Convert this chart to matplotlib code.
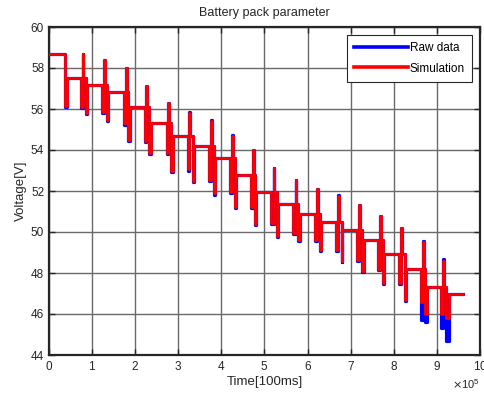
import numpy as np
import matplotlib
matplotlib.use("Agg")
import matplotlib.pyplot as plt
from matplotlib.ticker import ScalarFormatter

plt.rcParams['font.family'] = ['Liberation Sans', 'DejaVu Sans']

# time axis readings are in units of 1e5 x 100ms
TIME_SCALE = 1e5

# rest level after each pulse group (first value = start level)
rest_level = [58.7, 57.5, 57.15, 56.85, 56.1, 55.3, 54.7, 54.2, 53.6, 52.8,
              51.95, 51.35, 50.9, 50.5, 50.08, 49.6, 48.95, 48.2, 47.3, 47.0]

# pulse timing, one entry per transition (19 transitions)
t_dip = [0.38, 0.74, 1.23, 1.73, 2.23, 2.73, 3.22, 3.72, 4.20, 4.68,
         5.15, 5.67, 6.17, 6.67, 7.15, 7.64, 8.12, 8.62, 9.10]
t_spike = [np.nan, 0.78, 1.27, 1.78, 2.26, 2.77, 3.26, 3.76, 4.25, 4.73,
           5.21, 5.72, 6.22, 6.71, 7.20, 7.68, 8.17, 8.67, 9.15]
t_drop = [np.nan, 0.85, 1.35, 1.84, 2.33, 2.84, 3.33, 3.83, 4.31, 4.78,
          5.28, 5.78, 6.29, 6.79, 7.27, 7.75, 8.25, 8.73, 9.20]
t_rest = [0.41, 0.88, 1.38, 1.87, 2.36, 2.87, 3.36, 3.86, 4.34, 4.81,
          5.31, 5.82, 6.31, 6.81, 7.30, 7.78, 8.28, 8.77, 9.27]
t_end = 9.60

# simulated voltages at the pulses
sim_dip = [56.15, 56.1, 55.85, 55.3, 54.45, 53.85, 53.05, 52.55, 51.95, 51.2,
           50.45, 49.95, 49.6, 49.1, 48.65, 48.2, 47.5, 46.6, 46.0]
sim_spike = [np.nan, 58.7, 58.37, 58.0, 57.1, 56.3, 55.8, 55.4, 54.7, 54.0,
             53.1, 52.55, 52.1, 51.76, 51.3, 50.8, 50.2, 49.5, 48.6]
sim_drop = [np.nan, 55.8, 55.45, 54.5, 53.85, 53.0, 52.5, 51.9, 51.2, 50.4,
            49.8, 49.6, 49.1, 48.6, 48.1, 47.5, 46.7, 46.0, 45.8]

# measured voltages at the pulses
raw_dip = [56.1, 56.05, 55.8, 55.2, 54.4, 53.8, 53.0, 52.5, 51.9, 51.15,
           50.4, 49.9, 49.55, 49.05, 48.6, 48.15, 47.45, 45.7, 45.3]
raw_spike = [np.nan, 58.7, 58.4, 58.0, 57.1, 56.3, 55.85, 55.45, 54.75, 54.0,
             53.1, 52.55, 52.1, 51.8, 51.3, 50.8, 50.2, 49.55, 48.7]
raw_drop = [np.nan, 55.75, 55.4, 54.45, 53.8, 52.95, 52.45, 51.8, 51.15, 50.35,
            49.75, 49.55, 49.05, 48.55, 48.05, 47.45, 46.65, 45.6, 44.7]


def build_trace(dip, spike, drop):
    t = [0.0]
    v = [rest_level[0]]
    for k in range(len(t_dip)):
        prev = rest_level[k]
        new = rest_level[k + 1]
        t += [t_dip[k], t_dip[k]]
        v += [prev, dip[k]]
        if np.isnan(spike[k]):
            t += [t_rest[k], t_rest[k]]
            v += [dip[k], new]
            continue
        w = 0.02
        t += [t_spike[k], t_spike[k], t_spike[k] + w, t_spike[k] + w,
              t_drop[k], t_drop[k], t_rest[k], t_rest[k]]
        v += [dip[k], spike[k], spike[k], prev,
              prev, drop[k], drop[k], new]
    t.append(t_end)
    v.append(rest_level[-1])
    return np.array(t) * TIME_SCALE, np.array(v)


raw_t, raw_v = build_trace(raw_dip, raw_spike, raw_drop)
sim_t, sim_v = build_trace(sim_dip, sim_spike, sim_drop)

fig = plt.figure(figsize=(4.84, 4.0), dpi=100)
ax = fig.add_axes([0.1012, 0.1125, 0.8905, 0.82])

ax.plot(raw_t, raw_v, color='#0000FF', lw=2.3, label='Raw data', zorder=3)
ax.plot(sim_t, sim_v, color='#FF0000', lw=2.0, label='Simulation', zorder=4)

ax.set_xlim(0, 10 * TIME_SCALE)
ax.set_ylim(44, 60)
ax.set_xticks(np.arange(0, 11) * TIME_SCALE)
ax.set_yticks(np.arange(44, 61, 2))

fmt = ScalarFormatter(useMathText=True)
fmt.set_powerlimits((5, 5))
ax.xaxis.set_major_formatter(fmt)
ax.xaxis.get_offset_text().set_fontsize(8)
ax.xaxis.get_offset_text().set_color('#262626')

ax.grid(True, color='#6a6a6a', lw=1.0)
ax.set_axisbelow(True)
ax.tick_params(direction='in', top=True, right=True, length=4, width=1,
               labelsize=8.5, labelcolor='#262626', colors='#262626')
for s in ax.spines.values():
    s.set_linewidth(1.6)
    s.set_color('#262626')

ax.set_title('Battery pack parameter', fontsize=9, color='#262626', pad=8)
ax.set_xlabel('Time[100ms]', fontsize=9.5, color='#262626', labelpad=2)
ax.set_ylabel('Voltage[V]', fontsize=9.5, color='#262626', labelpad=3)

leg = ax.legend(loc='upper right', fontsize=8.5, fancybox=False, framealpha=1,
                edgecolor='#262626', handlelength=4.6, handletextpad=0.1,
                borderpad=0.6, labelspacing=0.7, borderaxespad=0.7)
leg.get_frame().set_linewidth(0.8)
for line in leg.get_lines():
    line.set_linewidth(2.6)

fig.savefig('out.png', dpi=100)
